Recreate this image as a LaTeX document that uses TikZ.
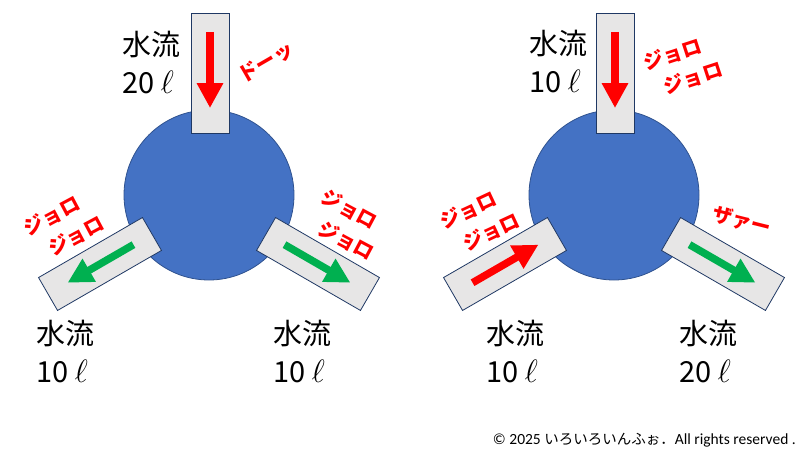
\documentclass[tikz,border=0pt]{standalone}
\usepackage{fontspec}
\setmainfont{Carlito}
\newfontfamily\jp{Noto Sans CJK JP}
\usetikzlibrary{arrows.meta,calc}
\definecolor{tankblue}{HTML}{4472C4}
\definecolor{tankedge}{HTML}{2F528F}
\definecolor{pipegray}{HTML}{E7E6E6}
\definecolor{pipeedge}{HTML}{1F3864}
\definecolor{flowred}{HTML}{FF0000}
\definecolor{flowgreen}{HTML}{00B050}
\newcommand{\litre}{\scalebox{1.3}{$\ell$}}
\begin{document}
\begin{tikzpicture}[x=1pt,y=-1pt,
		tank/.style={circle,draw=tankedge,line width=0.8pt,fill=tankblue,minimum size=170pt,inner sep=0pt},
		pipe/.style={rectangle,draw=pipeedge,line width=0.8pt,fill=pipegray,minimum width=38pt,minimum height=120pt,inner sep=0pt},
		flow/.style={line width=7.5pt,-{Triangle[length=25pt,width=25pt]}},
		amount/.style={font=\jp\fontsize{29}{38}\selectfont,align=left,inner sep=0pt},
		sound/.style={font=\jp\bfseries\fontsize{20}{29}\selectfont,text=flowred,align=left,inner sep=0pt}]
	\useasboundingbox (0,0) rectangle (800,450);
	% left tank
	\node[tank] (ta) at (209,195) {};
	\node[pipe] (a1) at (210,73) {};
	\node[pipe,rotate=-60] (a2) at (100,264) {};
	\node[pipe,rotate=60] (a3) at (318,264) {};
	\draw[flow,flowred] ($(a1.north)!0.16!(a1.south)$) -- ($(a1.north)!0.79!(a1.south)$);
	\draw[flow,flowgreen] ($(a2.north)!0.18!(a2.south)$) -- ($(a2.north)!0.81!(a2.south)$);
	\draw[flow,flowgreen] ($(a3.north)!0.18!(a3.south)$) -- ($(a3.north)!0.81!(a3.south)$);
	\node[amount] (qa1) at (151,63) {水流\\20 \litre};
	\node[amount] (qa2) at (65,352) {水流\\10 \litre};
	\node[amount] (qa3) at (302,352) {水流\\10 \litre};
	\node[sound,rotate=30] (sa1) at (266,62) {ドーッ};
	\node[sound,rotate=28] (sa2) at (64,226) {ジョロ\\\hspace*{0.6em}ジョロ};
	\node[sound,rotate=-28] (sa3) at (348,225) {ジョロ\\\hspace*{0.6em}ジョロ};
	% right tank
	\node[tank] (tb) at (614,195) {};
	\node[pipe] (b1) at (615,73) {};
	\node[pipe,rotate=-60] (b2) at (505,264) {};
	\node[pipe,rotate=60] (b3) at (723,264) {};
	\draw[flow,flowred] ($(b1.north)!0.16!(b1.south)$) -- ($(b1.north)!0.79!(b1.south)$);
	\draw[flow,flowred] ($(b2.north)!0.81!(b2.south)$) -- ($(b2.north)!0.18!(b2.south)$);
	\draw[flow,flowgreen] ($(b3.north)!0.18!(b3.south)$) -- ($(b3.north)!0.81!(b3.south)$);
	\node[amount] (qb1) at (558,62) {水流\\10 \litre};
	\node[amount] (qb2) at (515,352) {水流\\10 \litre};
	\node[amount] (qb3) at (708,352) {水流\\20 \litre};
	\node[sound,rotate=18] (sb1) at (683,66) {ジョロ\\\hspace*{0.6em}ジョロ};
	\node[sound,rotate=25] (sb2) at (480,221) {ジョロ\\\hspace*{0.6em}ジョロ};
	\node[sound,rotate=-14] (sb3) at (742,221) {ザァー};
	\node[anchor=east,inner sep=0pt,font=\fontsize{15.5}{17}\selectfont] (copy) at (796,440) {© 2025 {\jp\fontsize{14.5}{17}\selectfont いろいろいんふぉ．}All rights reserved .};
\end{tikzpicture}
\end{document}
